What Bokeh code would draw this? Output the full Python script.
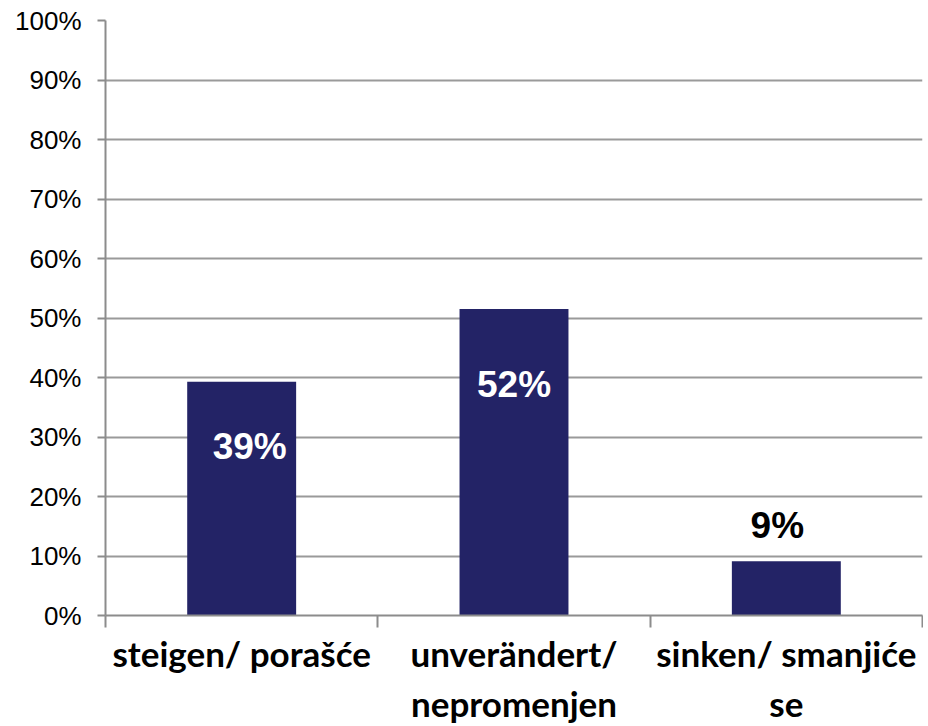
from bokeh.plotting import figure
from bokeh.models import ColumnDataSource, FixedTicker, NumeralTickFormatter, Range1d
from bokeh.core.properties import value
from bokeh.embed import file_html
from bokeh.resources import INLINE

categories = ["steigen/ porašće", "unverändert/\nnepromenjen", "sinken/ smanjiće\nse"]
shares = [0.393, 0.515, 0.091]
share_labels = ["39%", "52%", "9%"]
label_colors = ["white", "white", "black"]
label_dx = [8, 0, -9]
label_dy = [65, 75, -36]

xs = [i + 0.5 for i in range(len(categories))]

src = ColumnDataSource(dict(x=xs, top=shares, lab=share_labels, col=label_colors,
                            dx=label_dx, dy=label_dy))

p = figure(width=923, height=726, output_backend="svg", toolbar_location=None,
           x_range=Range1d(0, len(categories)), y_range=Range1d(0, 1),
           min_border_left=105, min_border_right=1, min_border_top=20, min_border_bottom=111)
p.outline_line_color = None
p.background_fill_color = "white"
p.border_fill_color = "white"

p.vbar(x="x", top="top", bottom=0, width=0.4, source=src, fill_color="#232366", line_color=None)

p.text(x="x", y="top", text="lab", x_offset="dx", y_offset="dy", source=src,
       text_color="col", text_align="center", text_baseline="middle",
       text_font=value("Liberation Sans"), text_font_style="bold", text_font_size="37px")

# y axis
p.yaxis.ticker = FixedTicker(ticks=[i / 10 for i in range(11)])
p.yaxis.formatter = NumeralTickFormatter(format="0%")
p.yaxis.major_label_text_font = "Liberation Sans"
p.yaxis.major_label_text_font_size = "26px"
p.yaxis.major_label_text_color = "black"
p.yaxis.axis_line_color = "#8c8c8c"
p.yaxis.axis_line_width = 2
p.yaxis.major_tick_line_color = "#8c8c8c"
p.yaxis.major_tick_line_width = 2
p.yaxis.major_tick_out = 8
p.yaxis.major_tick_in = 0
p.yaxis.minor_tick_line_color = None
p.yaxis.major_label_standoff = 16

p.ygrid.ticker = FixedTicker(ticks=[i / 10 for i in range(11)])
p.ygrid.grid_line_color = "#9a9a9a"
p.ygrid.grid_line_width = 2
p.xgrid.grid_line_color = None

# x axis
p.xaxis.ticker = FixedTicker(ticks=xs, minor_ticks=list(range(len(categories) + 1)))
p.xaxis.major_label_overrides = {x: c for x, c in zip(xs, categories)}
p.xaxis.major_label_text_font = "Lato"
p.xaxis.major_label_text_font_style = "bold"
p.xaxis.major_label_text_font_size = "35px"
p.xaxis.major_label_text_color = "black"
p.xaxis.major_label_text_line_height = 1.2
p.xaxis.axis_line_color = "#8c8c8c"
p.xaxis.axis_line_width = 2
p.xaxis.major_tick_line_color = None
p.xaxis.major_tick_out = 0
p.xaxis.major_tick_in = 0
p.xaxis.minor_tick_line_color = "#8c8c8c"
p.xaxis.minor_tick_line_width = 2
p.xaxis.minor_tick_out = 12
p.xaxis.minor_tick_in = 0
p.xaxis.major_label_standoff = 4

open("out.html", "w").write(file_html(p, INLINE))
